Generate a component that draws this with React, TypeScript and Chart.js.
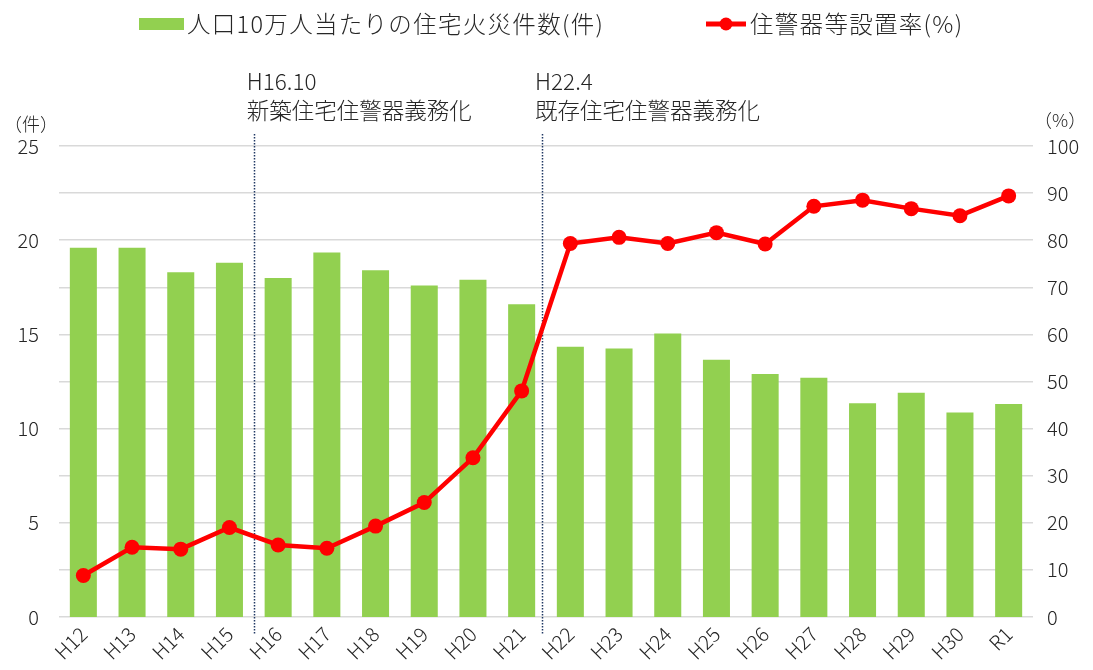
import React, { useEffect, useRef } from "react";
import { Chart, registerables } from "chart.js";

Chart.register(...registerables);

const categories = ["H12","H13","H14","H15","H16","H17","H18","H19","H20","H21","H22","H23","H24","H25","H26","H27","H28","H29","H30","R1"];
const fireCounts = [19.6,19.6,18.3,18.8,18.0,19.35,18.4,17.6,17.9,16.6,14.35,14.25,15.05,13.65,12.9,12.7,11.35,11.9,10.85,11.3];
const installRates = [8.8,14.8,14.4,19.0,15.3,14.6,19.3,24.3,33.8,48.0,79.3,80.6,79.3,81.6,79.2,87.2,88.5,86.7,85.2,89.4];
const barLabel = "人口10万人当たりの住宅火災件数(件)";
const lineLabel = "住警器等設置率(%)";
const leftTitle = "（件）";
const rightTitle = "（%）";
const markers = [
  { pos: 3.5, line1: "H16.10", line2: "新築住宅住警器義務化" },
  { pos: 9.42, line1: "H22.4", line2: "既存住宅住警器義務化" },
];

const FONT = '"Noto Sans CJK JP", "Noto Sans", sans-serif';
const TEXT = "#262626";
const GREEN = "#92D050";
const RED = "#FF0000";

const overlay = {
  id: "overlay",
  beforeDatasetsDraw(chart: any) {
    const ctx = chart.ctx;
    const x = chart.scales.x;
    const step = (chart.chartArea.right - chart.chartArea.left) / categories.length;
    ctx.save();
    ctx.strokeStyle = "#203864";
    ctx.lineWidth = 1.5;
    ctx.setLineDash([1.5, 1.5]);
    markers.forEach((m) => {
      const px = Math.round(x.getPixelForValue(Math.floor(m.pos)) + (m.pos - Math.floor(m.pos)) * step) + 0.5;
      ctx.beginPath();
      ctx.moveTo(px, 134);
      ctx.lineTo(px, 634);
      ctx.stroke();
    });
    ctx.restore();
  },
  afterDraw(chart: any) {
    const ctx = chart.ctx;
    const x = chart.scales.x;
    const step = (chart.chartArea.right - chart.chartArea.left) / categories.length;
    ctx.save();
    ctx.fillStyle = TEXT;
    ctx.textBaseline = "middle";
    ctx.font = `300 22.5px ${FONT}`;
    markers.forEach((m) => {
      const px = x.getPixelForValue(Math.floor(m.pos)) + (m.pos - Math.floor(m.pos)) * step;
      ctx.textAlign = "left";
      ctx.fillText(m.line1, px - 7, 81);
      ctx.fillText(m.line2, px - 7, 110);
    });
    // axis titles
    ctx.font = `300 18px ${FONT}`;
    ctx.textAlign = "left";
    ctx.fillText(leftTitle, 4, 124);
    ctx.fillText(rightTitle, 1034, 120);
    // legend
    ctx.font = `300 23.5px ${FONT}`;
    (ctx as any).letterSpacing = "1.3px";
    ctx.fillStyle = GREEN;
    ctx.fillRect(139, 18, 45, 12);
    ctx.fillStyle = TEXT;
    ctx.fillText(barLabel, 187, 24);
    ctx.strokeStyle = RED;
    ctx.lineWidth = 5;
    ctx.beginPath();
    ctx.moveTo(706, 24);
    ctx.lineTo(746, 24);
    ctx.stroke();
    ctx.fillStyle = RED;
    ctx.beginPath();
    ctx.arc(726, 24, 6.5, 0, Math.PI * 2);
    ctx.fill();
    ctx.fillStyle = TEXT;
    ctx.fillText(lineLabel, 750, 24);
    (ctx as any).letterSpacing = "0px";
    ctx.restore();
  },
};

export default function App() {
  const ref = useRef<HTMLCanvasElement>(null);
  useEffect(() => {
    document.body.style.margin = "0";
    const chart = new Chart(ref.current!, {
      type: "bar",
      data: {
        labels: categories,
        datasets: [
          {
            type: "line",
            label: lineLabel,
            data: installRates,
            yAxisID: "y1",
            borderColor: RED,
            backgroundColor: RED,
            borderWidth: 4.5,
            pointRadius: 7.5,
            pointHoverRadius: 7.5,
            pointBackgroundColor: RED,
            pointBorderWidth: 0,
            order: 0,
          } as any,
          {
            type: "bar",
            label: barLabel,
            data: fireCounts,
            yAxisID: "y",
            backgroundColor: GREEN,
            barPercentage: 1,
            categoryPercentage: 0.555,
            order: 1,
          },
        ],
      },
      options: {
        responsive: false,
        animation: false,
        layout: { padding: { top: 146, left: 0, right: 0, bottom: 0 } },
        plugins: { legend: { display: false }, tooltip: { enabled: false } },
        scales: {
          x: {
            grid: { display: false, drawTicks: false },
            border: { display: false },
            ticks: {
              color: TEXT,
              font: { family: FONT, size: 20, weight: "300" as any },
              minRotation: 45,
              maxRotation: 45,
              padding: 5,
            },
            afterFit: (s: any) => { s.height = 53; },
          },
          y: {
            position: "left",
            min: 0,
            max: 25,
            grid: { display: false, drawTicks: false },
            border: { display: false },
            ticks: { stepSize: 5, color: TEXT, font: { family: FONT, size: 20, weight: "300" as any }, padding: 20 },
            afterFit: (s: any) => { s.width = 59; },
          },
          y1: {
            position: "right",
            min: 0,
            max: 100,
            grid: { display: true, color: "#D9D9D9", lineWidth: 1.5, drawTicks: false },
            border: { display: false },
            ticks: { stepSize: 10, color: TEXT, font: { family: FONT, size: 20, weight: "300" as any }, padding: 14 },
            afterFit: (s: any) => { s.width = 60; },
          },
        },
      },
      plugins: [overlay],
    });
    return () => chart.destroy();
  }, []);
  return (
    <div style={{ position: "absolute", left: 0, top: 0, width: 1093, height: 670, background: "#fff" }}>
      <canvas ref={ref} width={1093} height={670} />
    </div>
  );
}
